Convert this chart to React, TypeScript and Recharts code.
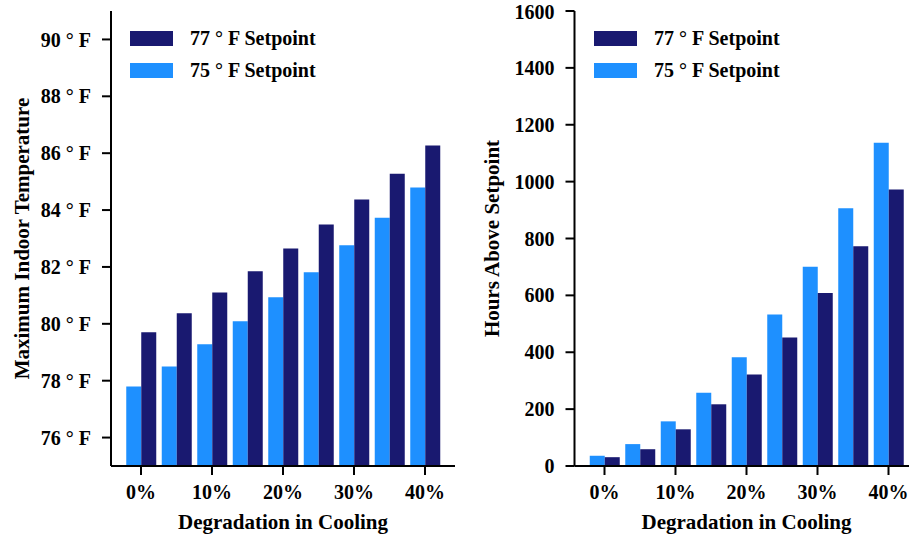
import { BarChart, Bar, XAxis, YAxis, Legend } from "recharts";

// degradation levels, 5% steps
const categories = ["0%", "5%", "10%", "15%", "20%", "25%", "30%", "35%", "40%"];

// maximum indoor temperature (°F)
const maxTemp75 = [77.8, 78.5, 79.28, 80.09, 80.93, 81.81, 82.76, 83.73, 84.79];
const maxTemp77 = [79.7, 80.37, 81.1, 81.85, 82.65, 83.49, 84.37, 85.28, 86.27];

// hours above setpoint
const hours75 = [36, 77, 157, 258, 382, 533, 701, 906, 1137];
const hours77 = [31, 59, 129, 217, 322, 452, 608, 773, 972];

const tempTicks = [76, 78, 80, 82, 84, 86, 88, 90];
const hourTicks = [0, 200, 400, 600, 800, 1000, 1200, 1400, 1600];

const DARK = "#191970";
const LIGHT = "#1E90FF";
const FONT = '"Liberation Serif", "Times New Roman", serif';

const TICK = { fill: "#000", fontSize: 20, fontFamily: FONT, fontWeight: "bold" as const };
const LINE = { stroke: "#000", strokeWidth: 2 };
const PAD = { left: 12.25, right: 12.25 };

const tempData = categories.map((c, i) => ({ cat: c, sp75: maxTemp75[i], sp77: maxTemp77[i] }));
const hourData = categories.map((c, i) => ({ cat: c, sp75: hours75[i], sp77: hours77[i] }));

const titleStyle = { fontFamily: FONT, fontWeight: "bold" as const, fontSize: 21, fill: "#000" };

const yTitle = (x: number, y: number, text: string) => () => (
  <text x={x} y={y} transform={`rotate(-90 ${x} ${y})`} textAnchor="middle" dominantBaseline="central" style={titleStyle}>
    {text}
  </text>
);

const xTitle = (x: number, y: number, text: string) => () => (
  <text x={x} y={y} textAnchor="middle" style={titleStyle}>
    {text}
  </text>
);

const LegendBox = () => (
  <div style={{ fontFamily: FONT, fontWeight: "bold", fontSize: 20, color: "#000" }}>
    {[
      { label: "77 ° F Setpoint", color: DARK },
      { label: "75 ° F Setpoint", color: LIGHT },
    ].map(r => (
      <div key={r.label} style={{ display: "flex", alignItems: "center", height: 32 }}>
        <div style={{ width: 43, height: 15, background: r.color }} />
        <span style={{ marginLeft: 17, whiteSpace: "nowrap" }}>{r.label}</span>
      </div>
    ))}
  </div>
);

function Panel({ data, domain, ticks, yWidth, width, right, yLabel, yLabelX, legendLeft, tickFmt }: any) {
  const plotCenter = yWidth + (width - yWidth - right) / 2;
  return (
    <BarChart width={width} height={537} data={data} barGap={0} margin={{ top: 11, right, bottom: 0, left: 0 }}>
      <XAxis dataKey="cat" interval={1} height={71} tick={TICK} tickSize={9} tickMargin={10} tickLine={LINE} axisLine={LINE} padding={PAD}
        label={{ content: xTitle(plotCenter, 529, "Degradation in Cooling") }} />
      <XAxis xAxisId="top" dataKey="cat" orientation="top" height={0} tick={false} tickLine={false} axisLine={LINE} padding={PAD} />
      <YAxis domain={domain} ticks={ticks} allowDataOverflow width={yWidth} tick={TICK} tickSize={9} tickMargin={11} tickLine={LINE} axisLine={LINE}
        tickFormatter={tickFmt} label={{ content: yTitle(yLabelX, 238.5, yLabel) }} />
      <YAxis yAxisId="right" orientation="right" width={0} tick={false} tickLine={false} axisLine={LINE} domain={domain} />
      <Legend layout="horizontal" verticalAlign="middle" align="center" content={<LegendBox />}
        wrapperStyle={{ left: legendLeft, top: 22.5, width: "auto", height: "auto" }} />
      <Bar dataKey="sp75" fill={LIGHT} barSize={15} isAnimationActive={false} />
      <Bar dataKey="sp77" fill={DARK} barSize={15} isAnimationActive={false} />
    </BarChart>
  );
}

export default function App() {
  return (
    <div style={{ position: "absolute", left: 0, top: 0, width: 909, height: 537, overflow: "hidden", background: "#fff" }}>
      <div style={{ position: "absolute", left: 0, top: 0 }}>
        <Panel data={tempData} domain={[75, 91]} ticks={tempTicks} yWidth={111} width={465} right={10}
          yLabel="Maximum Indoor Temperature" yLabelX={22} legendLeft={130} tickFmt={(v: number) => `${v} ° F`} />
      </div>
      <div style={{ position: "absolute", left: 460, top: 0 }}>
        <Panel data={hourData} domain={[0, 1600]} ticks={hourTicks} yWidth={114.5} width={470} right={11.5}
          yLabel="Hours Above Setpoint" yLabelX={32} legendLeft={134} tickFmt={(v: number) => `${v}`} />
      </div>
    </div>
  );
}
